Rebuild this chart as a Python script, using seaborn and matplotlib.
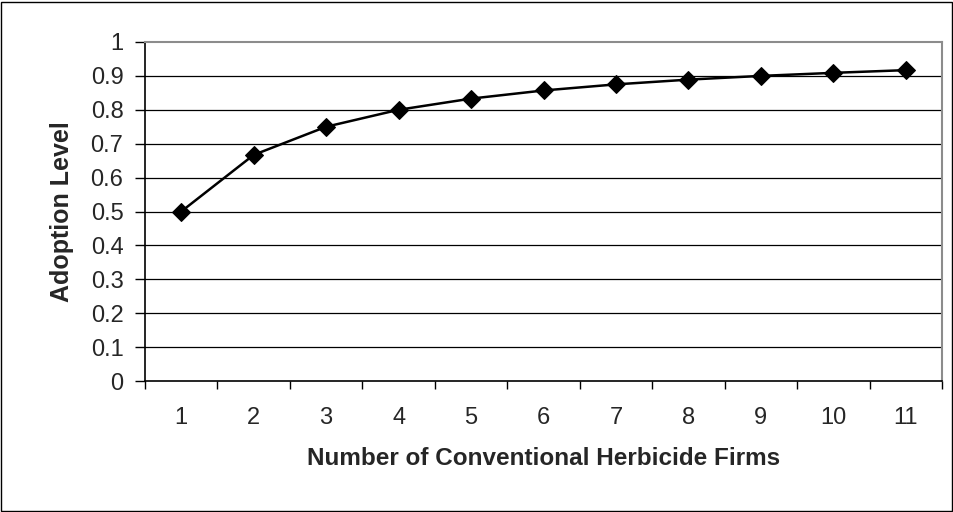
import matplotlib
matplotlib.use("Agg")
import matplotlib.pyplot as plt
import seaborn as sns
from matplotlib.patches import Rectangle

firms = [1, 2, 3, 4, 5, 6, 7, 8, 9, 10, 11]
adoption = [0.5, 0.667, 0.75, 0.8, 0.833, 0.857, 0.875, 0.889, 0.9, 0.909, 0.917]
y_ticks = [0, 0.1, 0.2, 0.3, 0.4, 0.5, 0.6, 0.7, 0.8, 0.9, 1]
y_labels = ["0", "0.1", "0.2", "0.3", "0.4", "0.5", "0.6", "0.7", "0.8", "0.9", "1"]

sns.set_style("white")
plt.rcParams['font.family'] = ['Liberation Sans', 'DejaVu Sans']

fig = plt.figure(figsize=(9.54, 5.12), dpi=100)
W, H = 954, 512
ax = fig.add_axes([145 / W, 1 - 381 / H, 797 / W, 339 / H])

# horizontal gridlines
for y in y_ticks[1:-1]:
    ax.axhline(y, color="black", lw=0.9, zorder=1)

sns.lineplot(x=firms, y=adoption, marker="D", markersize=9, color="black",
             linewidth=1.8, markeredgecolor="black", ax=ax, zorder=3)

ax.set_xlim(0.5, 11.5)
ax.set_ylim(0, 1)

# category axis: tick marks between categories, labels centered
ax.set_xticks([i + 0.5 for i in range(0, 12)])
ax.set_xticklabels([])
ax.set_xticks(firms, minor=True)
ax.set_xticklabels([str(f) for f in firms], minor=True)
ax.tick_params(axis="x", which="major", direction="out", length=5.5, width=1, color="black", bottom=True)
ax.tick_params(axis="x", which="minor", length=0, labelsize=17, pad=18.5, bottom=True)

ax.set_yticks(y_ticks)
ax.set_yticklabels(y_labels)
ax.tick_params(axis="y", direction="out", length=7, width=1, color="black", labelsize=17, pad=8.5, left=True)

for side in ["top", "right"]:
    ax.spines[side].set_visible(True)
    ax.spines[side].set_color("#8c8c8c")
    ax.spines[side].set_linewidth(1.5)
for side in ["left", "bottom"]:
    ax.spines[side].set_color("black")
    ax.spines[side].set_linewidth(1.2)

ax.set_xlabel("Number of Conventional Herbicide Firms", fontsize=17.5, fontweight="bold", labelpad=13)
ax.set_ylabel("Adoption Level", fontsize=18, fontweight="bold", labelpad=12)

# outer chart border
fig.patches.append(Rectangle((0.5 / W, 1.5 / H), 952 / W, 509 / H, transform=fig.transFigure,
                             fill=False, edgecolor="black", linewidth=1))

fig.savefig("out.png", dpi=100)
